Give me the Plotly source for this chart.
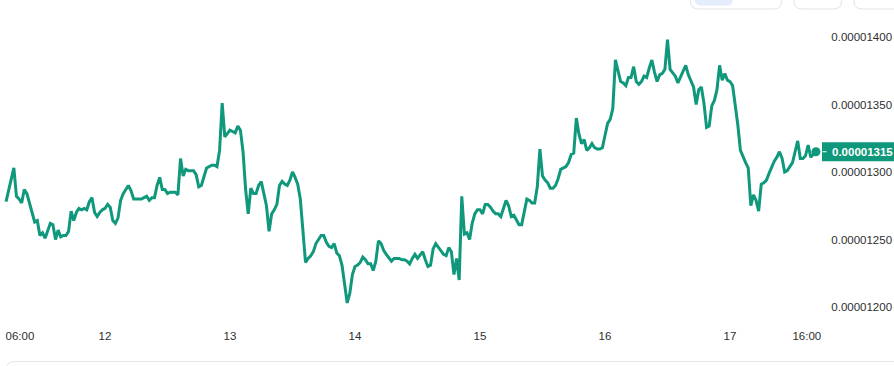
import pandas as pd
import plotly.graph_objects as go

# ---------------- data ----------------
start_time = "2025-03-11 05:00"
step = "30min"
# price in units of 1e-8
price_e8 = [
    1278, 1287, 1296, 1303, 1282, 1280, 1277, 1287, 1284, 1276,
    1270, 1263, 1264, 1253, 1255, 1251, 1256, 1262, 1261, 1250,
    1257, 1252, 1253, 1253, 1256, 1271, 1264, 1270, 1273, 1272,
    1273, 1272, 1278, 1281, 1270, 1267, 1270, 1272, 1273, 1276,
    1274, 1264, 1262, 1266, 1279, 1284, 1287, 1290, 1286, 1280,
    1280, 1280, 1280, 1281, 1282, 1279, 1281, 1281, 1290, 1296,
    1287, 1287, 1284, 1285, 1285, 1285, 1283, 1310, 1297, 1302,
    1301, 1301, 1301, 1298, 1289, 1290, 1296, 1303, 1304, 1305,
    1305, 1304, 1316, 1351, 1326, 1329, 1331, 1330, 1329, 1334,
    1331, 1315, 1287, 1269, 1288, 1284, 1284, 1290, 1293, 1284,
    1275, 1256, 1269, 1272, 1276, 1290, 1293, 1291, 1290, 1294,
    1300, 1296, 1291, 1280, 1259, 1233, 1236, 1238, 1241, 1247,
    1250, 1253, 1253, 1248, 1245, 1244, 1247, 1240, 1238, 1231,
    1217, 1203, 1210, 1224, 1230, 1231, 1233, 1237, 1235, 1232,
    1232, 1227, 1234, 1249, 1247, 1242, 1239, 1236, 1234, 1236,
    1236, 1236, 1235, 1235, 1234, 1232, 1236, 1239, 1236, 1239,
    1241, 1235, 1230, 1231, 1243, 1247, 1244, 1241, 1239, 1238,
    1244, 1241, 1224, 1236, 1220, 1282, 1254, 1255, 1250, 1262,
    1269, 1272, 1272, 1269, 1276, 1276, 1274, 1271, 1269, 1269,
    1267, 1273, 1279, 1275, 1267, 1268, 1264, 1261, 1261, 1272,
    1280, 1279, 1277, 1277, 1289, 1317, 1297, 1294, 1292, 1288,
    1288, 1290, 1295, 1302, 1303, 1304, 1307, 1313, 1314, 1340,
    1328, 1321, 1324, 1316, 1318, 1321, 1318, 1317, 1317, 1318,
    1327, 1336, 1339, 1347, 1383, 1374, 1367, 1366, 1364, 1370,
    1370, 1378, 1367, 1365, 1367, 1371, 1370, 1377, 1383, 1374,
    1367, 1372, 1373, 1376, 1398, 1376, 1373, 1371, 1366, 1370,
    1375, 1379, 1372, 1367, 1363, 1350, 1361, 1363, 1351, 1333,
    1334, 1349, 1353, 1361, 1379, 1368, 1373, 1368, 1367, 1364,
    1351, 1335, 1316, 1311, 1307, 1303, 1275, 1283, 1279, 1271,
    1291, 1292, 1294, 1299, 1304, 1308, 1311, 1315, 1310, 1300,
    1301, 1304, 1307, 1315, 1323, 1310, 1310, 1312, 1320, 1311,
    1313, 1315,
]

x_tick_times = ["2025-03-11 07:40", "2025-03-12", "2025-03-13", "2025-03-14",
                "2025-03-15", "2025-03-16", "2025-03-17", "2025-03-17 14:45"]
x_tick_text = ["06:00", "12", "13", "14", "15", "16", "17", "16:00"]

y_tick_e8 = [1200, 1250, 1300, 1350, 1400]
y_tick_text = ["0.00001200", "0.00001250", "0.00001300", "0.00001350", "0.00001400"]
last_label = "0.00001315"

x_range = ["2025-03-11 03:50:24", "2025-03-17 18:14:24"]
y_range_e8 = [1190.37, 1412.59]

# ---------------- style ----------------
GREEN = "#0f987b"
TEXT = "#2e2e2e"
FONT = "Liberation Sans, Arial, sans-serif"
W_FIG, H_FIG = 894, 366
L, R, T, B = 0, 69, 20, 46
PW, PH = W_FIG - L - R, H_FIG - T - B

prices = [p * 1e-8 for p in price_e8]
times = pd.date_range(start_time, periods=len(prices), freq=step)


def px_x(px):
    return (px - L) / PW


def px_y(py):
    return (T + PH - py) / PH


def rrect(x0, y0, x1, y1, r):
    pts = [
        ("M", [(x0 + r, y0)]), ("L", [(x1 - r, y0)]), ("Q", [(x1, y0), (x1, y0 + r)]),
        ("L", [(x1, y1 - r)]), ("Q", [(x1, y1), (x1 - r, y1)]), ("L", [(x0 + r, y1)]),
        ("Q", [(x0, y1), (x0, y1 - r)]), ("L", [(x0, y0 + r)]), ("Q", [(x0, y0), (x0 + r, y0)]),
    ]
    s = ""
    for cmd, ps in pts:
        s += cmd + " " + " ".join(f"{px_x(a):.5f},{px_y(b):.5f}" for a, b in ps) + " "
    return s + "Z"


fig = go.Figure()
fig.add_trace(go.Scatter(
    x=times, y=prices, mode="lines",
    line=dict(color=GREEN, width=3, shape="linear"),
    hoverinfo="skip", showlegend=False,
))
fig.add_trace(go.Scatter(
    x=[times[-1]], y=[prices[-1]], mode="markers",
    marker=dict(color=GREEN, size=9),
    hoverinfo="skip", showlegend=False,
))

shapes = []
# top buttons (partially visible)
shapes.append(dict(type="path", xref="paper", yref="paper", path=rrect(690.5, -20, 781.5, 9, 8),
                   line=dict(color="#e2e2ea", width=1), fillcolor="white", layer="above"))
shapes.append(dict(type="path", xref="paper", yref="paper", path=rrect(695, -20, 733, 5.5, 6),
                   line=dict(width=0), fillcolor="#e3edfc", layer="above"))
shapes.append(dict(type="path", xref="paper", yref="paper", path=rrect(794, -20, 841.5, 9, 8),
                   line=dict(color="#e2e2ea", width=1), fillcolor="white", layer="above"))
shapes.append(dict(type="path", xref="paper", yref="paper", path=rrect(854, -20, 910, 9, 8),
                   line=dict(color="#e2e2ea", width=1), fillcolor="white", layer="above"))
# bottom panel
shapes.append(dict(type="path", xref="paper", yref="paper", path=rrect(6, 361.5, 910, 390, 9),
                   line=dict(color="#e4e4ec", width=1), fillcolor="white", layer="above"))
# last price box
shapes.append(dict(type="rect", xref="paper", yref="y", ysizemode="pixel", yanchor=prices[-1],
                   x0=px_x(822), x1=px_x(900), y0=-9.5, y1=9.5,
                   fillcolor=GREEN, line=dict(width=0), layer="above"))
shapes.append(dict(type="line", xref="paper", yref="y",
                   x0=px_x(822.5), x1=px_x(826.5), y0=prices[-1], y1=prices[-1],
                   line=dict(color="white", width=1), layer="above"))

fig.update_layout(
    width=W_FIG, height=H_FIG, autosize=False,
    margin=dict(l=L, r=R, t=T, b=B),
    paper_bgcolor="white", plot_bgcolor="white",
    font=dict(family=FONT, size=12, color=TEXT),
    shapes=shapes,
    annotations=[dict(
        xref="paper", yref="y", x=px_x(830), y=prices[-1], xanchor="left", yanchor="middle",
        text="<b>" + last_label + "</b>", showarrow=False,
        font=dict(family=FONT, size=11.5, color="white"),
    )],
    xaxis=dict(
        type="date", range=x_range, tickmode="array",
        tickvals=x_tick_times, ticktext=x_tick_text,
        showgrid=False, zeroline=False, showline=False,
        ticks="outside", ticklen=5, tickcolor="rgba(0,0,0,0)",
        tickfont=dict(family=FONT, size=11.5, color=TEXT),
        fixedrange=True,
    ),
    yaxis=dict(
        side="right", range=[v * 1e-8 for v in y_range_e8], tickmode="array",
        tickvals=[v * 1e-8 for v in y_tick_e8], ticktext=y_tick_text,
        showgrid=False, zeroline=False, showline=False,
        ticks="outside", ticklen=3, tickcolor="rgba(0,0,0,0)",
        tickfont=dict(family=FONT, size=11.5, color=TEXT),
        fixedrange=True,
    ),
)

fig.write_html("out.html", config={"displayModeBar": False},
               post_script="document.body.style.margin='0';")
